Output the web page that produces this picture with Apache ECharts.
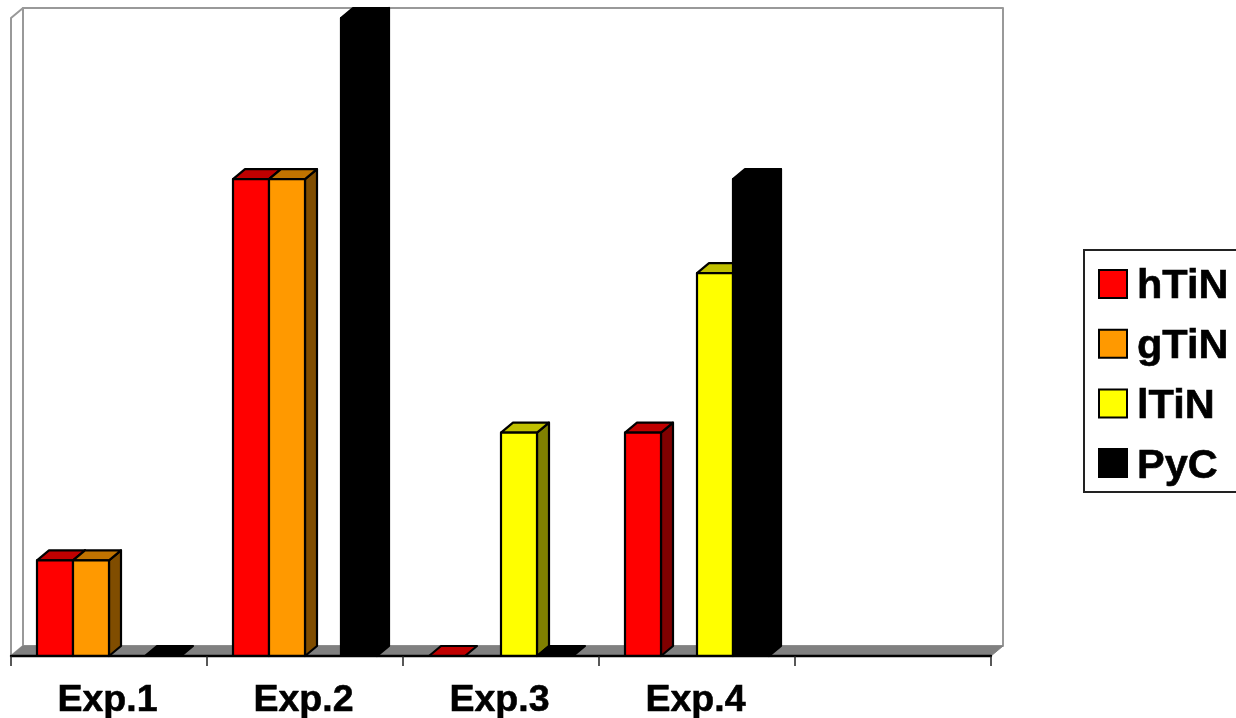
<!DOCTYPE html>
<html>
<head>
<meta charset="utf-8">
<style>html,body{margin:0;padding:0;background:#fff;overflow:hidden}#c{width:1236px;height:718px}</style>
<script src="https://cdn.jsdelivr.net/npm/echarts@6/dist/echarts.min.js"></script>
</head>
<body>
<div id="c"></div>
<script>
var categories = ['Exp.1', 'Exp.2', 'Exp.3', 'Exp.4', ''];
var hTiN = [0.6, 2.99, 0, 1.4, null];
var gTiN = [0.6, 2.99, null, null, null];
var lTiN = [null, null, 1.4, 2.4, null];
var PyC = [0, 4, 0, 2.99, null];

var seriesNames = ['hTiN', 'gTiN', 'lTiN', 'PyC'];
var seriesValues = [hTiN, gTiN, lTiN, PyC];
var faceColors = ['#ff0000', '#ff9900', '#ffff00', '#000000'];
var topColors = ['#c00000', '#c07300', '#c0c000', '#000000'];
var sideColors = ['#800000', '#804d00', '#808000', '#000000'];

var DX = 12, DY = 10, BAR_FRAC = 36 / 196;
var FONT = '"Liberation Sans", Arial, sans-serif';

function poly(pts, fill, stroke, lw) {
  return { type: 'polygon', shape: { points: pts },
    style: { fill: fill, stroke: stroke || null, lineWidth: lw || 0, lineJoin: 'round' } };
}

function barRenderer(si) {
  return function (params, api) {
    var v = api.value(1);
    if (v == null || isNaN(v)) return null;
    var c = api.coord([api.value(0), v]);
    var base = api.coord([api.value(0), 0]);
    var band = api.size([1, 0])[0];
    var w = band * BAR_FRAC;
    var x0 = c[0] - 2 * w + si * w, x1 = x0 + w;
    var yt = c[1], yb = base[1];
    var S = '#000', L = 2.2;
    var kids = [];
    if (v > 0) {
      kids.push(poly([[x1, yt], [x1 + DX, yt - DY], [x1 + DX, yb - DY], [x1, yb]], sideColors[si], S, L));
    }
    kids.push(poly([[x0, yt], [x0 + DX, yt - DY], [x1 + DX, yt - DY], [x1, yt]], topColors[si], S, L));
    if (v > 0) {
      kids.push(poly([[x0, yt], [x1, yt], [x1, yb], [x0, yb]], faceColors[si], S, L));
    }
    return { type: 'group', children: kids };
  };
}

function wallRenderer(params) {
  var g = params.coordSys;
  var l = g.x, r = g.x + g.width, t = g.y, b = g.y + g.height;
  var W = '#999999';
  return { type: 'group', children: [
    poly([[l, b], [l, t], [l + DX, t - DY], [l + DX, b - DY]], '#ffffff', W, 2),
    poly([[l + DX, t - DY], [r + DX, t - DY], [r + DX, b - DY], [l + DX, b - DY]], '#ffffff', W, 2),
    poly([[l, b], [l + DX, b - DY], [r + DX, b - DY], [r, b]], '#808080', '#808080', 1)
  ] };
}

var series = [{
  type: 'custom', name: 'wall', silent: true, z: 0, clip: false,
  renderItem: wallRenderer, data: [[0, 0]], encode: { x: 0, y: 1 }
}];
seriesNames.forEach(function (n, si) {
  series.push({
    type: 'custom', name: n, z: 2, clip: false, silent: true,
    itemStyle: { color: faceColors[si] },
    renderItem: barRenderer(si),
    encode: { x: 0, y: 1 },
    data: seriesValues[si].map(function (v, i) { return [i, v]; })
  });
});

var chart = echarts.init(document.getElementById('c'), null, { renderer: 'canvas' });
chart.setOption({
  animation: false,
  backgroundColor: '#ffffff',
  grid: { left: 11, top: 18, width: 980, height: 638, containLabel: false, outerBoundsMode: 'none' },
  xAxis: {
    type: 'category', data: categories, boundaryGap: true, z: 5,
    axisLine: { show: true, lineStyle: { color: '#000', width: 2.4 } },
    axisTick: { show: true, length: 10, lineStyle: { color: '#222', width: 1.5 } },
    axisLabel: { interval: 0, margin: 26, color: '#000', fontFamily: FONT, fontWeight: 'bold', fontSize: 37.5, textBorderColor: '#000', textBorderWidth: 0.6, padding: [0, 3, 0, 0] },
    splitLine: { show: false }
  },
  yAxis: { type: 'value', min: 0, max: 4, show: false, splitLine: { show: false } },
  legend: {
    show: true, orient: 'vertical', left: 1084, top: 250,
    data: seriesNames, icon: 'rect', itemWidth: 28, itemHeight: 28, itemGap: 11.4,
    padding: [10, 20, 4.6, 14], selectedMode: false,
    borderColor: '#222', borderWidth: 2, backgroundColor: '#fff',
    itemStyle: { borderColor: '#000', borderWidth: 2 },
    formatter: '{a|{name}}',
    textStyle: {
      color: '#000',
      rich: { a: { color: '#000', fontFamily: FONT, fontWeight: 'bold', fontSize: 41.5, lineHeight: 40, padding: [6, 0, 0, 5], textBorderColor: '#000', textBorderWidth: 0.6 } }
    }
  },
  series: series
});
</script>
</body>
</html>
